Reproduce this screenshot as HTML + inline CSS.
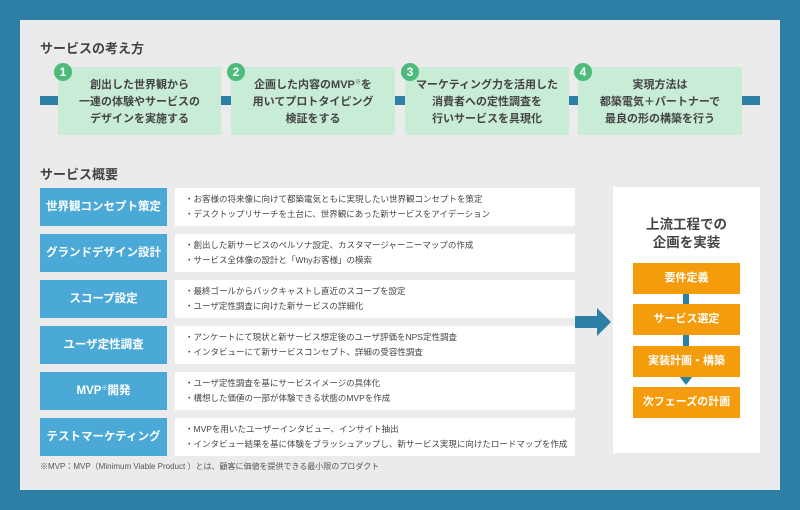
<html><head><style>
body{margin:0;width:800px;height:510px;background:#2e7fa6;font-family:"Liberation Sans","Noto Sans CJK JP",sans-serif;position:relative;overflow:hidden}
.p{position:absolute;left:20px;top:20px;width:760px;height:470px;background:#ebebeb}
.a{position:absolute}
.h{font-size:13px;font-weight:bold;color:#444}
.st{position:absolute;top:67px;height:68px;background:#c8ecd6;color:#444;font-size:11px;font-weight:bold;text-align:center;line-height:17px;box-sizing:border-box;padding-top:10px}
.c{position:absolute;width:18px;height:18px;border-radius:50%;background:#4dbb7b;color:#fff;font-size:12px;font-weight:bold;text-align:center;line-height:18px;top:63px}
.l{position:absolute;left:40px;width:127px;height:38px;background:#4aa9d6;color:#fff;font-size:11.5px;font-weight:bold;text-align:center;line-height:38px}
.d{position:absolute;left:175px;width:400px;height:38px;background:#fff;color:#444;font-size:8.5px;line-height:15px;padding-left:10px;padding-top:4px;box-sizing:border-box}
.o{position:absolute;left:633px;width:107px;height:31px;background:#f59c0c;color:#fff;font-size:11px;font-weight:bold;text-align:center;line-height:31px}
.s{font-size:6px;position:relative;top:-4px;line-height:0}
</style></head><body>
<div class="p"></div>
<div class="a h" style="left:40px;top:38px">サービスの考え方</div>
<div class="a" style="left:40px;top:96px;width:720px;height:9px;background:#2e7fa6"></div>
<div class="st" style="left:58px;width:163px">創出した世界観から<br>一連の体験やサービスの<br>デザインを実施する</div>
<div class="st" style="left:231px;width:164px">企画した内容のMVP<span class="s">※</span>を<br>用いてプロトタイピング<br>検証をする</div>
<div class="st" style="left:405px;width:164px">マーケティング力を活用した<br>消費者への定性調査を<br>行いサービスを具現化</div>
<div class="st" style="left:578px;width:164px">実現方法は<br>都築電気＋パートナーで<br>最良の形の構築を行う</div>
<div class="c" style="left:54px">1</div><div class="c" style="left:227px">2</div><div class="c" style="left:401px">3</div><div class="c" style="left:574px">4</div>
<div class="a h" style="left:40px;top:164px">サービス概要</div>
<div class="l" style="top:188px">世界観コンセプト策定</div><div class="d" style="top:188px"><div>・お客様の将来像に向けて都築電気ともに実現したい世界観コンセプトを策定</div><div>・デスクトップリサーチを土台に、世界観にあった新サービスをアイデーション</div></div>
<div class="l" style="top:234px">グランドデザイン設計</div><div class="d" style="top:234px"><div>・創出した新サービスのペルソナ設定、カスタマージャーニーマップの作成</div><div>・サービス全体像の設計と「Whyお客様」の模索</div></div>
<div class="l" style="top:280px">スコープ設定</div><div class="d" style="top:280px"><div>・最終ゴールからバックキャストし直近のスコープを設定</div><div>・ユーザ定性調査に向けた新サービスの詳細化</div></div>
<div class="l" style="top:326px">ユーザ定性調査</div><div class="d" style="top:326px"><div>・アンケートにて現状と新サービス想定後のユーザ評価をNPS定性調査</div><div>・インタビューにて新サービスコンセプト、詳細の受容性調査</div></div>
<div class="l" style="top:372px">MVP<span class="s">※</span>開発</div><div class="d" style="top:372px"><div>・ユーザ定性調査を基にサービスイメージの具体化</div><div>・構想した価値の一部が体験できる状態のMVPを作成</div></div>
<div class="l" style="top:418px">テストマーケティング</div><div class="d" style="top:418px"><div>・MVPを用いたユーザーインタビュー、インサイト抽出</div><div>・インタビュー結果を基に体験をブラッシュアップし、新サービス実現に向けたロードマップを作成</div></div>
<div class="a" style="left:40px;top:461px;font-size:8px;color:#555">※MVP：MVP（Minimum Viable Product ）とは、顧客に価値を提供できる最小限のプロダクト</div>
<svg class="a" style="left:575px;top:308px" width="36" height="28"><polygon points="0,8 22,8 22,0 36,14 22,28 22,20 0,20" fill="#2e7fa6"/></svg>
<div class="a" style="left:613px;top:187px;width:147px;height:266px;background:#fff"></div>
<div class="a" style="left:613px;top:216px;width:147px;text-align:center;font-size:13.5px;font-weight:bold;color:#444;line-height:18px">上流工程での<br>企画を実装</div>
<div class="a" style="left:683px;top:290px;width:6px;height:90px;background:#2e7fa6"></div>
<svg class="a" style="left:679px;top:376px" width="14" height="9"><polygon points="0,0 14,0 7,9" fill="#2e7fa6"/></svg>
<div class="o" style="top:263px">要件定義</div>
<div class="o" style="top:304px">サービス選定</div>
<div class="o" style="top:346px">実装計画・構築</div>
<div class="o" style="top:387px">次フェーズの計画</div>
</body></html>
